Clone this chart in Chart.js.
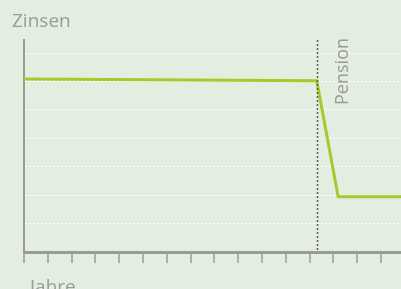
<!DOCTYPE html>
<html>
<head>
<meta charset="utf-8">
<script src="https://cdn.jsdelivr.net/npm/chart.js@4"></script>
<style>
  html, body { margin: 0; padding: 0; background: #e3eee0; }
  #wrap { width: 401px; height: 289px; position: relative; }
</style>
</head>
<body>
<div id="wrap"><canvas id="chart"></canvas></div>
<script>
'use strict';

// Data (x in years, y in arbitrary interest units)
var years    = [0, 12.3, 13.2, 15.84];
var interest = [6.09, 6.03, 1.94, 1.94];
var pensionYear = 12.3;
var xTicks = [0, 1, 2, 3, 4, 5, 6, 7, 8, 9, 10, 11, 12, 13, 14, 15];
var yTicks = [0, 1, 2, 3, 4, 5, 6, 7];
var yTitle = 'Zinsen';
var xTitle = 'Jahre';
var pensionLabel = 'Pension';

var grey = '#9a9a9a';
var font = '"Open Sans", "Noto Sans", sans-serif';

function setTicks(values) {
  return function(scale) {
    scale.ticks = values.map(function(v) { return { value: v }; });
  };
}

// Titles and the "Pension" marker
var decorations = {
  id: 'decorations',
  afterDraw: function(chart) {
    var ctx = chart.ctx;
    var x = chart.scales.x;
    var area = chart.chartArea;
    var px = Math.round(x.getPixelForValue(pensionYear)) + 0.5;

    ctx.save();
    ctx.strokeStyle = '#5a5a5a';
    ctx.lineWidth = 1.5;
    ctx.setLineDash([2, 2]);
    ctx.beginPath();
    ctx.moveTo(px, area.top);
    ctx.lineTo(px, area.bottom);
    ctx.stroke();
    ctx.setLineDash([]);

    ctx.fillStyle = grey;
    ctx.font = '19px ' + font;
    ctx.textBaseline = 'alphabetic';
    ctx.textAlign = 'left';
    ctx.fillText(yTitle, 12, 27);
    ctx.fillText(xTitle, 30, 293);

    ctx.font = '18px ' + font;
    ctx.translate(px + 30, area.top - 2);
    ctx.rotate(-Math.PI / 2);
    ctx.textAlign = 'right';
    ctx.fillText(pensionLabel, 0, 0);
    ctx.restore();
  }
};

new Chart(document.getElementById('chart'), {
  type: 'line',
  data: {
    datasets: [{
      data: years.map(function(y, i) { return { x: y, y: interest[i] }; }),
      borderColor: '#a9c82b',
      borderWidth: 3,
      pointRadius: 0,
      tension: 0,
      fill: false
    }]
  },
  options: {
    responsive: true,
    maintainAspectRatio: false,
    animation: false,
    layout: { padding: { left: 24, top: 40, right: 0, bottom: 26 } },
    plugins: { legend: { display: false }, tooltip: { enabled: false } },
    scales: {
      x: {
        type: 'linear',
        min: 0,
        max: 15.84,
        afterBuildTicks: setTicks(xTicks),
        ticks: { display: false },
        grid: { drawOnChartArea: false, drawTicks: true, tickLength: 11, color: '#aeaeae', lineWidth: 2 },
        border: { display: true, color: '#999', width: 3 }
      },
      y: {
        min: 0,
        max: 7.46,
        afterBuildTicks: setTicks(yTicks),
        ticks: { display: false },
        grid: { drawTicks: false, color: '#ffffff', lineWidth: 1 },
        border: { display: true, color: '#999', width: 2, dash: [2, 2] }
      }
    }
  },
  plugins: [decorations]
});
</script>
</body>
</html>
